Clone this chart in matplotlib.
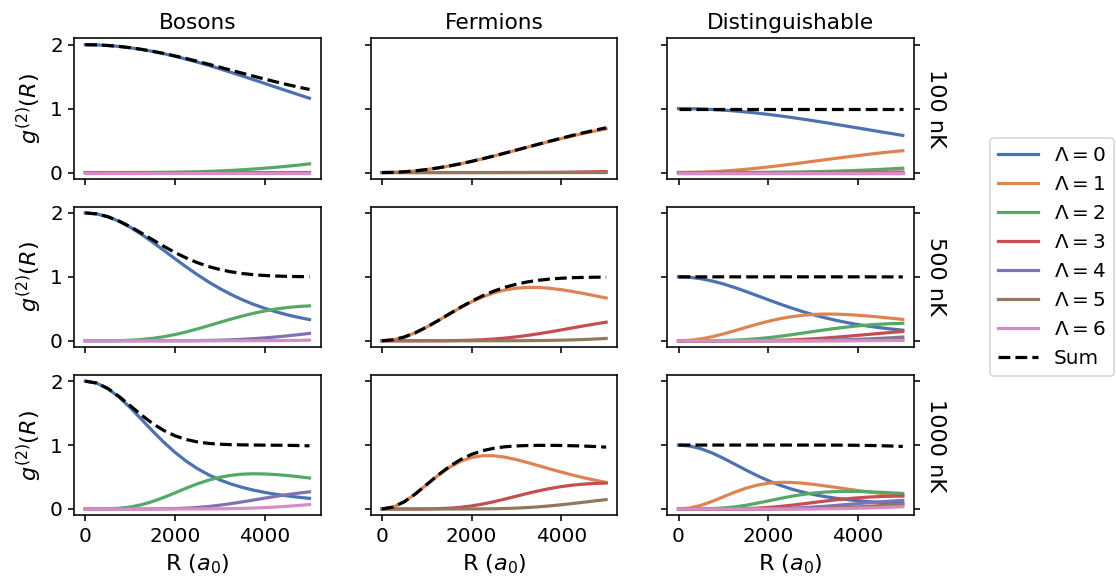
import numpy as np
import matplotlib
matplotlib.use('Agg')
from matplotlib import pyplot as plt

# pair separation (bohr radii)
R = [0, 250, 500, 750, 1000, 1250, 1500, 1750, 2000, 2250, 2500,
     2750, 3000, 3250, 3500, 3750, 4000, 4250, 4500, 4750, 5000]

stats = ['Bosons', 'Fermions', 'Distinguishable']
temps = ['100 nK', '500 nK', '1000 nK']

# seaborn "deep" colours, one per partial wave
colors = ['#4C72B0', '#DD8452', '#55A868', '#C44E52', '#8172B3', '#937860', '#DA8BC3']

Z = [0.0] * 21

#---------------- 100 nK ----------------
bos_100 = [[2.0, 1.997, 1.988, 1.9732, 1.9526, 1.9266, 1.8954, 1.8595, 1.8192, 1.7749, 1.7271,
            1.6763, 1.623, 1.5676, 1.5108, 1.4529, 1.3948, 1.3358, 1.277, 1.2197, 1.1628],
           [0, 0, 0, 0.0001, 0.0004, 0.0009, 0.0019, 0.0034, 0.0056, 0.0088, 0.013,
            0.0185, 0.0253, 0.0336, 0.0435, 0.0549, 0.068, 0.0827, 0.0991, 0.1167, 0.1358],
           [0, 0, 0, 0, 0, 0, 0, 0, 0, 0, 0,
            0, 0, 0.0001, 0.0001, 0.0002, 0.0003, 0.0004, 0.0007, 0.001, 0.0014],
           Z]
bos_100_sum = [2.0, 1.997, 1.988, 1.9733, 1.9529, 1.9275, 1.8973, 1.8629, 1.8248, 1.7836, 1.7401,
               1.6947, 1.6483, 1.6013, 1.5543, 1.508, 1.463, 1.419, 1.3768, 1.3374, 1.30]

fer_100 = [[0, 0.003, 0.012, 0.0267, 0.0471, 0.0725, 0.1027, 0.1371, 0.1751, 0.2161, 0.2595,
            0.3046, 0.3506, 0.397, 0.4431, 0.4883, 0.5317, 0.5738, 0.6134, 0.65, 0.6836],
           [0, 0, 0, 0, 0, 0, 0, 0, 0.0001, 0.0002, 0.0004,
            0.0007, 0.0011, 0.0017, 0.0026, 0.0037, 0.0052, 0.0072, 0.0096, 0.0126, 0.0163],
           [0, 0, 0, 0, 0, 0, 0, 0, 0, 0, 0,
            0, 0, 0, 0, 0, 0, 0, 0, 0, 0.0001]]
fer_100_sum = [0, 0.003, 0.012, 0.0267, 0.0471, 0.0725, 0.1027, 0.1371, 0.1752, 0.2164, 0.2599,
               0.3053, 0.3517, 0.3987, 0.4457, 0.492, 0.537, 0.581, 0.6232, 0.6626, 0.70]

dis_100 = [[1.0, 0.9985, 0.994, 0.9866, 0.9763, 0.9633, 0.9477, 0.9298, 0.9096, 0.8875, 0.8635,
            0.8382, 0.8115, 0.7838, 0.7554, 0.7265, 0.6974, 0.6679, 0.6385, 0.6099, 0.5814],
           [0, 0.0015, 0.006, 0.0134, 0.0236, 0.0362, 0.0514, 0.0685, 0.0876, 0.1081, 0.1298,
            0.1523, 0.1753, 0.1985, 0.2216, 0.2441, 0.2659, 0.2869, 0.3067, 0.325, 0.3418],
           [0, 0, 0, 0.0001, 0.0002, 0.0005, 0.0009, 0.0017, 0.0028, 0.0044, 0.0065,
            0.0092, 0.0127, 0.0168, 0.0218, 0.0275, 0.034, 0.0414, 0.0496, 0.0584, 0.0679],
           [0, 0, 0, 0, 0, 0, 0, 0, 0, 0.0001, 0.0002,
            0.0003, 0.0006, 0.0009, 0.0013, 0.0019, 0.0026, 0.0036, 0.0048, 0.0063, 0.0082],
           [0, 0, 0, 0, 0, 0, 0, 0, 0, 0, 0,
            0, 0, 0, 0, 0.0001, 0.0001, 0.0002, 0.0003, 0.0005, 0.0007],
           Z, Z]
dis_100_sum = [1.0] * 21

#---------------- 500 nK ----------------
bos_500 = [[2.0, 1.9851, 1.941, 1.8705, 1.7776, 1.6668, 1.5441, 1.4148, 1.2839, 1.1558, 1.0338,
            0.9205, 0.8172, 0.7245, 0.6425, 0.5706, 0.5081, 0.4539, 0.407, 0.3665, 0.3314],
           [0, 0, 0.0006, 0.0029, 0.0086, 0.0196, 0.0375, 0.0633, 0.0971, 0.1383, 0.185,
            0.2358, 0.2879, 0.3388, 0.3867, 0.4295, 0.4663, 0.4964, 0.5196, 0.536, 0.546],
           [0, 0, 0, 0, 0, 0, 0.0001, 0.0002, 0.0006, 0.0015, 0.003,
            0.0055, 0.0094, 0.015, 0.0228, 0.0328, 0.0451, 0.0598, 0.0766, 0.0951, 0.115],
           [0, 0, 0, 0, 0, 0, 0, 0, 0, 0, 0,
            0, 0.0001, 0.0002, 0.0005, 0.0009, 0.0016, 0.0027, 0.0043, 0.0065, 0.0095]]
bos_500_sum = [2.0, 1.985, 1.9416, 1.8733, 1.7862, 1.6864, 1.5817, 1.4783, 1.3817, 1.2956, 1.2218,
               1.1618, 1.1145, 1.0785, 1.0523, 1.0338, 1.0212, 1.0128, 1.0076, 1.0041, 1.002]

fer_500 = [[0, 0.0149, 0.0584, 0.1266, 0.2138, 0.3128, 0.4163, 0.517, 0.609, 0.6876, 0.750,
            0.7952, 0.823, 0.8352, 0.834, 0.8207, 0.799, 0.7712, 0.739, 0.7044, 0.669],
           [0, 0, 0, 0, 0.0002, 0.0007, 0.002, 0.0047, 0.0093, 0.0168, 0.0276,
            0.0424, 0.0613, 0.084, 0.1103, 0.1393, 0.170, 0.2015, 0.2325, 0.2625, 0.2904],
           [0, 0, 0, 0, 0, 0, 0, 0, 0, 0.0001, 0.0002,
            0.0006, 0.0011, 0.0021, 0.0037, 0.006, 0.0094, 0.014, 0.0199, 0.0273, 0.0362]]
fer_500_sum = [0, 0.0149, 0.0584, 0.1267, 0.214, 0.3135, 0.4183, 0.5217, 0.6183, 0.7045, 0.7778,
               0.8382, 0.8854, 0.9213, 0.947, 0.966, 0.9784, 0.9867, 0.9914, 0.9942, 0.9956]

dis_500 = [[1.0, 0.9926, 0.9705, 0.9353, 0.8888, 0.8334, 0.772, 0.7074, 0.642, 0.5779, 0.5169,
            0.4603, 0.4086, 0.3623, 0.3213, 0.2853, 0.254, 0.227, 0.2035, 0.1833, 0.1657],
           [0, 0.0075, 0.0292, 0.0633, 0.1069, 0.1564, 0.2082, 0.2585, 0.3045, 0.3438, 0.375,
            0.3976, 0.4115, 0.4176, 0.417, 0.4104, 0.3995, 0.3856, 0.3695, 0.3522, 0.3344],
           [0, 0, 0.0003, 0.0015, 0.0043, 0.0098, 0.0188, 0.0317, 0.0486, 0.0692, 0.0925,
            0.1179, 0.144, 0.1694, 0.1934, 0.2148, 0.2331, 0.2482, 0.2598, 0.268, 0.273],
           [0, 0, 0, 0, 0.0001, 0.0004, 0.001, 0.0024, 0.0047, 0.0084, 0.0138,
            0.0212, 0.0307, 0.042, 0.0552, 0.0697, 0.085, 0.1008, 0.1163, 0.1313, 0.1452],
           [0, 0, 0, 0, 0, 0, 0.0001, 0.0001, 0.0003, 0.0008, 0.0015,
            0.0028, 0.0047, 0.0075, 0.0114, 0.0164, 0.0226, 0.0299, 0.0383, 0.0476, 0.0575],
           [0, 0, 0, 0, 0, 0, 0, 0, 0, 0.0001, 0.0001,
            0.0003, 0.0006, 0.0011, 0.0019, 0.003, 0.0047, 0.007, 0.01, 0.0137, 0.0181],
           [0, 0, 0, 0, 0, 0, 0, 0, 0, 0, 0,
            0, 0.0001, 0.0001, 0.0003, 0.0005, 0.0008, 0.0014, 0.0022, 0.0033, 0.0048]]
dis_500_sum = [1.0, 1.0, 1.0, 1.0, 1.0, 1.0, 1.0, 1.0, 1.0, 1.0, 1.0,
               1.0, 1.0, 1.0, 1.0, 1.0, 0.9998, 0.9998, 0.9995, 0.9992, 0.9988]

#---------------- 1000 nK ----------------
bos_1000 = [[2.0, 1.9702, 1.8843, 1.752, 1.5872, 1.4054, 1.2211, 1.0458, 0.8869, 0.7487, 0.6317,
             0.5348, 0.4554, 0.3907, 0.3381, 0.295, 0.2594, 0.2299, 0.2051, 0.1841, 0.1661],
            [0, 0.0001, 0.0023, 0.0107, 0.0305, 0.0654, 0.1162, 0.1803, 0.2521, 0.3251, 0.393,
             0.4508, 0.496, 0.5266, 0.545, 0.5511, 0.548, 0.5386, 0.524, 0.5056, 0.485],
            [0, 0, 0, 0, 0.0001, 0.0003, 0.001, 0.0028, 0.0065, 0.0133, 0.024,
             0.0394, 0.0593, 0.0835, 0.1109, 0.14, 0.1695, 0.198, 0.2245, 0.2478, 0.268],
            [0, 0, 0, 0, 0, 0, 0, 0, 0.0001, 0.0002, 0.0005,
             0.0013, 0.0027, 0.0051, 0.0088, 0.0143, 0.0217, 0.0309, 0.0422, 0.055, 0.0692]]
bos_1000_sum = [2.0, 1.9703, 1.8866, 1.7627, 1.6178, 1.4711, 1.3384, 1.2289, 1.1457, 1.0873, 1.0492,
                1.0263, 1.0131, 1.0059, 1.0028, 1.0004, 0.9986, 0.9974, 0.9958, 0.9925, 0.9883]

fer_1000 = [[0, 0.0297, 0.1134, 0.237, 0.3808, 0.5239, 0.649, 0.7446, 0.8059, 0.8334, 0.8324,
             0.8096, 0.772, 0.7259, 0.676, 0.6256, 0.577, 0.5313, 0.489, 0.4505, 0.4156],
            [0, 0, 0, 0.0003, 0.0015, 0.0049, 0.0125, 0.0264, 0.0479, 0.0775, 0.1143,
             0.1562, 0.2005, 0.2443, 0.285, 0.3206, 0.3501, 0.3728, 0.3892, 0.3999, 0.4052],
            [0, 0, 0, 0, 0, 0, 0, 0.0002, 0.0007, 0.0018, 0.004,
             0.0078, 0.0138, 0.0226, 0.0343, 0.049, 0.0664, 0.0853, 0.1058, 0.1267, 0.147]]
fer_1000_sum = [0, 0.0297, 0.1134, 0.2373, 0.3823, 0.5288, 0.6615, 0.7712, 0.8546, 0.9127, 0.9503,
                0.9736, 0.9863, 0.9928, 0.9953, 0.9952, 0.9935, 0.9894, 0.984, 0.9771, 0.9678]

dis_1000 = [[1.0, 0.9851, 0.9421, 0.876, 0.7936, 0.7027, 0.6106, 0.5229, 0.4435, 0.3744, 0.3159,
             0.2674, 0.2277, 0.1954, 0.169, 0.1475, 0.1297, 0.115, 0.1026, 0.0921, 0.0831],
            [0, 0.0149, 0.0567, 0.1185, 0.1904, 0.262, 0.3245, 0.3723, 0.403, 0.4167, 0.4162,
             0.4048, 0.386, 0.363, 0.338, 0.3128, 0.2885, 0.2657, 0.2445, 0.2253, 0.2078],
            [0, 0.0001, 0.0012, 0.0054, 0.0153, 0.0327, 0.0581, 0.0902, 0.126, 0.1626, 0.1965,
             0.2254, 0.248, 0.2633, 0.2725, 0.2756, 0.274, 0.2693, 0.262, 0.2528, 0.2425],
            [0, 0, 0, 0.0002, 0.0007, 0.0025, 0.0063, 0.0132, 0.024, 0.0388, 0.0572,
             0.0781, 0.1003, 0.1222, 0.1425, 0.1603, 0.175, 0.1864, 0.1946, 0.2, 0.2026],
            [0, 0, 0, 0, 0.0001, 0.0002, 0.0005, 0.0014, 0.0033, 0.0067, 0.012,
             0.0197, 0.0297, 0.0418, 0.0555, 0.07, 0.0848, 0.099, 0.1123, 0.1239, 0.134],
            [0, 0, 0, 0, 0, 0, 0, 0.0001, 0.0004, 0.0009, 0.002,
             0.0039, 0.0069, 0.0113, 0.0172, 0.0245, 0.0332, 0.0427, 0.0529, 0.0634, 0.0735],
            [0, 0, 0, 0, 0, 0, 0, 0, 0.0001, 0.0001, 0.0003,
             0.0007, 0.0014, 0.0026, 0.0044, 0.0072, 0.0108, 0.0155, 0.0211, 0.0275, 0.0346]]
dis_1000_sum = [1.0, 1.0, 1.0, 1.0, 1.0, 1.0, 1.0, 1.0, 1.0, 1.0, 1.0,
                1.0, 0.9997, 0.9994, 0.9991, 0.9978, 0.9961, 0.9934, 0.9899, 0.9848, 0.9781]

# which partial waves show up in each column
waves = [[0, 2, 4, 6], [1, 3, 5], [0, 1, 2, 3, 4, 5, 6]]

panels = [[(bos_100, bos_100_sum), (fer_100, fer_100_sum), (dis_100, dis_100_sum)],
          [(bos_500, bos_500_sum), (fer_500, fer_500_sum), (dis_500, dis_500_sum)],
          [(bos_1000, bos_1000_sum), (fer_1000, fer_1000_sum), (dis_1000, dis_1000_sum)]]

plt.rcParams['axes.linewidth'] = 1.0
plt.rcParams['xtick.major.width'] = 1.0
plt.rcParams['ytick.major.width'] = 1.0

fig, axes = plt.subplots(3, 3, sharex=True, sharey=True, figsize=(9.7044, 5.0783), dpi=115)
fig.subplots_adjust(left=0.0663, right=0.819, top=0.9344, bottom=0.1175,
                    wspace=0.2024, hspace=0.196)

for i in range(3):
    for j in range(3):
        ax = axes[i][j]
        comps, tot = panels[i][j]
        for vals, l in zip(comps, waves[j]):
            ax.plot(R, vals, color=colors[l], lw=2.0, label=r'$\Lambda = %d$' % l)
        ax.plot(R, tot, 'k--', lw=2.0, label='Sum')
        ax.set_yticks([0, 1, 2])
        ax.set_xticks([0, 2000, 4000])
        ax.tick_params(labelsize=12.5)
        if i == 0:
            ax.set_title(stats[j], fontsize=13.5)
        if i == 2:
            ax.set_xlabel(r'R ($a_0$)', fontsize=14)
        if j == 0:
            ax.set_ylabel(r'$g^{(2)}(R)$', fontsize=14)
        if j == 2:
            ax.tick_params(right=True)
            ax.yaxis.set_label_position('right')
            ax.set_ylabel(temps[i], rotation=270, va='bottom', fontsize=14)

handles, labels = axes[0][2].get_legend_handles_labels()
fig.legend(handles, labels, loc='center left', bbox_to_anchor=(0.878, 0.56), fontsize=12.5)

fig.savefig('out.png', dpi=115)
